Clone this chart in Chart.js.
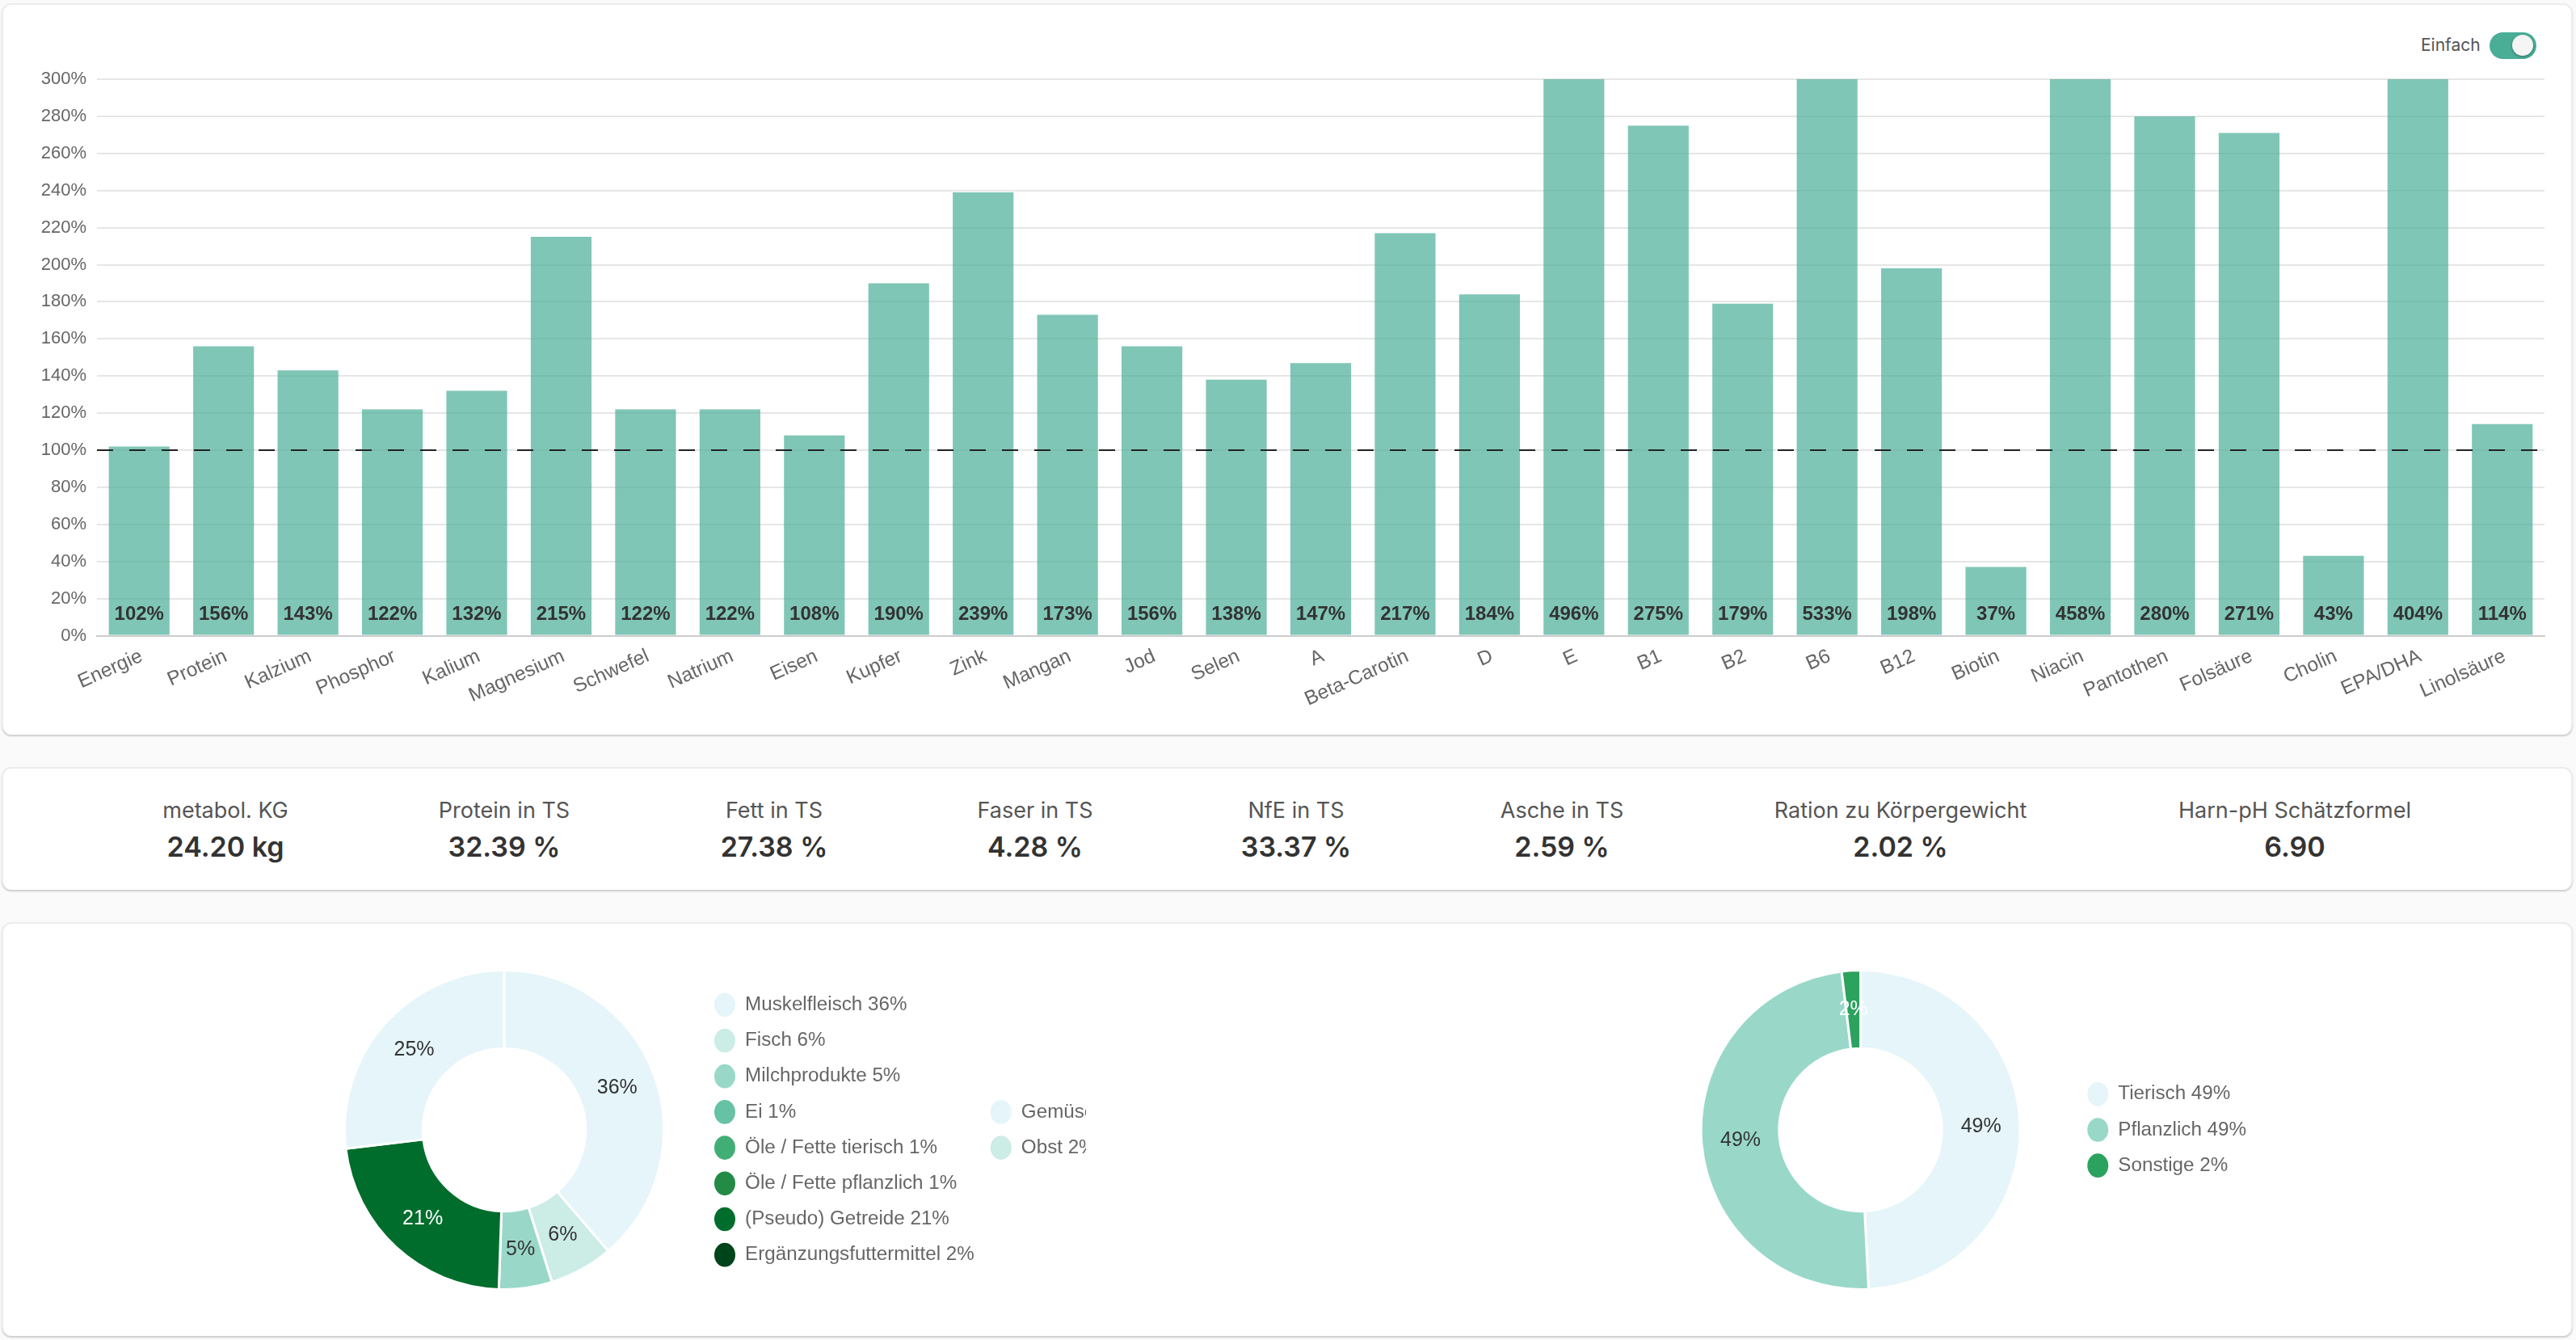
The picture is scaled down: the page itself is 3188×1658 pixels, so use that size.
<!DOCTYPE html>
<html lang="de">
<head>
<meta charset="utf-8">
<title>Rationsanalyse</title>
<script src="https://cdn.jsdelivr.net/npm/chart.js@4"></script>
<style>
html, body { margin: 0; padding: 0; background: #fafafa; }
body { width: 3188px; height: 1658px; position: relative; overflow: hidden; font-family: Inter, sans-serif; }
.card { position: absolute; left: 2px; width: 3182px; background: #fff; border-radius: 12px; box-sizing: border-box;
        border: 2px solid #ececec; border-bottom: 0; box-shadow: 0 2px 2px rgba(0,0,0,.18); }
canvas { position: absolute; display: block; }
.toggle-label { position: absolute; left: 2996px; top: 42px; font-size: 21px; line-height: 28px; color: #555; }
.toggle { position: absolute; left: 3081px; top: 40px; width: 58px; height: 33px; border-radius: 17px; background: #4aae97; }
.knob { position: absolute; left: 28px; top: 3px; width: 26px; height: 26px; border-radius: 50%; background: #f5f5f5; box-shadow: 0 1px 3px rgba(0,0,0,.4); }
.kpi { position: absolute; top: 982px; transform: translateX(-50%); text-align: center; white-space: nowrap; }
.kpi .name { font-size: 27px; line-height: 42px; color: #555; }
.kpi .val { font-size: 34px; line-height: 48px; font-weight: 600; color: #333; }
</style>
</head>
<body>
<div class="card" style="top:4px;height:905px"></div>
<div class="card" style="top:949px;height:152px"></div>
<div class="card" style="top:1141px;height:512px"></div>

<div class="toggle-label">Einfach</div>
<div class="toggle"><div class="knob"></div></div>

<canvas id="barNeeds" width="3184" height="849" style="left:0;top:60px"></canvas>
<div id="kpis"></div>
<canvas id="pieIngredients" width="960" height="398" style="left:384px;top:1199px"></canvas>
<canvas id="pieOrigin" width="748" height="398" style="left:2042px;top:1199px"></canvas>

<script>
let nutrients = ['Energie','Protein','Kalzium','Phosphor','Kalium','Magnesium','Schwefel','Natrium','Eisen','Kupfer','Zink','Mangan','Jod','Selen','A','Beta-Carotin','D','E','B1','B2','B6','B12','Biotin','Niacin','Pantothen','Folsäure','Cholin','EPA/DHA','Linolsäure'];
let coverage = [102,156,143,122,132,215,122,122,108,190,239,173,156,138,147,217,184,496,275,179,533,198,37,458,280,271,43,404,114];

let kpiNames = ['metabol. KG','Protein in TS','Fett in TS','Faser in TS','NfE in TS','Asche in TS','Ration zu Körpergewicht','Harn-pH Schätzformel'];
let kpiValues = ['24.20 kg','32.39 %','27.38 %','4.28 %','33.37 %','2.59 %','2.02 %','6.90'];
let kpiCenters = [279,624,958,1281,1604,1933,2352,2840];

let ingredientNames = ['Muskelfleisch','Fisch','Milchprodukte','Ei','Öle / Fette tierisch','Öle / Fette pflanzlich','(Pseudo) Getreide','Ergänzungsfuttermittel','Gemüse','Obst'];
let ingredientShares = [36,6,5,1,1,1,21,2,25,2];
// Ei, Öle, Ergänzung und Obst stehen nur in der Legende, im Ring fehlen sie
let ingredientSlices = [36,6,5,0,0,0,21,0,25,0];
let ingredientColors = ['#e5f5f9','#ccece6','#99d8c9','#66c2a4','#41ae76','#238b45','#006d2c','#00441b','#e5f5f9','#ccece6'];

let originNames = ['Tierisch','Pflanzlich','Sonstige'];
let originShares = [49,49,2];
let originSlices = [49.2,48.9,1.9];
let originColors = ['#e5f5f9','#99d8c9','#2ca25f'];

let fontSans = '"Liberation Sans", Arial, sans-serif';

// KPI Zeile
let kpiHtml = '';
kpiNames.forEach((name, i) => {
    kpiHtml += `<div class="kpi" style="left:${kpiCenters[i]}px">
        <div class="name">${name}</div>
        <div class="val">${kpiValues[i]}</div>
    </div>`;
});
document.getElementById('kpis').innerHTML = kpiHtml;

// Prozentwerte unten in den Balken + Linie bei 100%
let barExtras = {
    id: 'barExtras',
    afterDatasetsDraw(chart) {
        let ctx = chart.ctx, x = chart.scales.x, y = chart.scales.y;
        ctx.save();
        ctx.font = 'bold 24px ' + fontSans;
        ctx.fillStyle = '#333';
        ctx.textAlign = 'center';
        ctx.textBaseline = 'middle';
        coverage.forEach((v, i) => ctx.fillText(v + '%', x.getPixelForValue(i), y.getPixelForValue(0) - 26));
        ctx.strokeStyle = '#222';
        ctx.lineWidth = 2;
        ctx.setLineDash([20, 20]);
        ctx.beginPath();
        ctx.moveTo(x.left, y.getPixelForValue(100));
        ctx.lineTo(x.right, y.getPixelForValue(100));
        ctx.stroke();
        ctx.restore();
    }
};

new Chart(document.getElementById('barNeeds'), {
    type: 'bar',
    data: {
        labels: nutrients,
        datasets: [{ data: coverage, backgroundColor: 'rgba(74,174,151,0.7)', barPercentage: 0.8, categoryPercentage: 0.9 }]
    },
    options: {
        responsive: false,
        animation: false,
        layout: { padding: { top: 38, right: 35 } },
        plugins: { legend: { display: false }, tooltip: { enabled: false } },
        scales: {
            x: {
                afterFit: s => { s.height = 122.5; },
                grid: { display: false },
                border: { color: '#ccc', width: 2 },
                ticks: { font: { size: 24.5, family: fontSans }, color: '#666', minRotation: 24, maxRotation: 24, autoSkip: false, padding: 3, labelOffset: 3 }
            },
            y: {
                min: 0,
                max: 300,
                afterFit: s => { s.width = 120; },
                grid: { color: '#e6e6e6', lineWidth: 2, drawTicks: false },
                border: { display: false },
                ticks: { stepSize: 20, font: { size: 22, family: fontSans }, color: '#666', padding: 13, callback: v => v + '%' }
            }
        }
    },
    plugins: [barExtras]
});

// Ringe: Beschriftung mittig im Segment
let sliceLabels = {
    id: 'sliceLabels',
    afterDatasetsDraw(chart) {
        let ctx = chart.ctx;
        let shown = chart.data.datasets[0].shareLabels;
        let inks = chart.data.datasets[0].labelInks;
        ctx.save();
        ctx.font = '25px ' + fontSans;
        ctx.textAlign = 'center';
        ctx.textBaseline = 'middle';
        chart.getDatasetMeta(0).data.forEach((arc, i) => {
            if (!chart.data.datasets[0].data[i]) return;
            let p = arc.getCenterPoint();
            ctx.fillStyle = inks[i];
            ctx.fillText(shown[i] + '%', p.x, p.y);
        });
        ctx.restore();
    }
};

function makeRing(id, names, shares, slices, colors, inks) {
    new Chart(document.getElementById(id), {
        type: 'doughnut',
        data: {
            labels: names,
            datasets: [{ data: slices, backgroundColor: colors, borderColor: '#fff', borderWidth: 3, shareLabels: shares, labelInks: inks }]
        },
        options: {
            responsive: false,
            animation: false,
            cutout: '51%',
            plugins: {
                tooltip: { enabled: false },
                legend: {
                    position: 'right',
                    labels: {
                        usePointStyle: true,
                        pointStyle: 'circle',
                        boxWidth: 24,
                        boxHeight: 21,
                        pointStyleWidth: 26,
                        padding: 20,
                        color: '#666',
                        font: { size: 24.2, family: fontSans },
                        generateLabels: () => names.map((n, i) => ({
                            text: n + ' ' + shares[i] + '%',
                            fillStyle: colors[i],
                            strokeStyle: colors[i],
                            fontColor: '#666',
                            lineWidth: 0,
                            pointStyle: 'circle',
                            index: i
                        }))
                    }
                }
            }
        },
        plugins: [sliceLabels]
    });
}

makeRing('pieIngredients', ingredientNames, ingredientShares, ingredientSlices, ingredientColors,
    ['#333','#333','#333','#333','#333','#fff','#fff','#fff','#333','#333']);
makeRing('pieOrigin', originNames, originShares, originSlices, originColors, ['#333','#333','#fff']);
</script>
</body>
</html>
